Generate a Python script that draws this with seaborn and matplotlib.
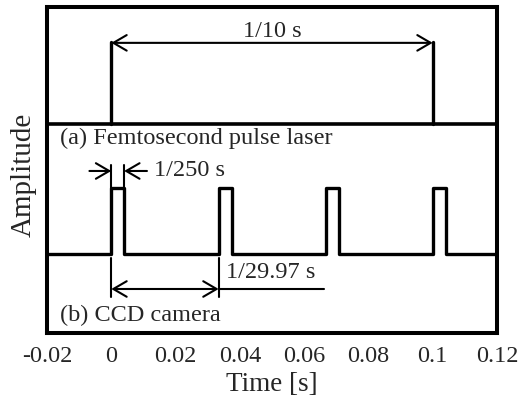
import numpy as np
import pandas as pd
import matplotlib
matplotlib.use("Agg")
import matplotlib.pyplot as plt
import seaborn as sns

# Timing data (seconds)
laser_times = [0.0, 0.1]                      # femtosecond laser pulses, 1/10 s apart
ccd_starts = [0.0, 0.0334, 0.0667, 0.1001]    # CCD frame starts, 1/29.97 s apart
exposure = 0.004                              # CCD exposure, 1/250 s
frame_period = 0.0334
x_ticks = [-0.02, 0, 0.02, 0.04, 0.06, 0.08, 0.1, 0.12]
x_tick_labels = ["-0.02", "0", "0.02", "0.04", "0.06", "0.08", "0.1", "0.12"]

# Vertical layout levels (axis units)
divider = 0.641
laser_top = 0.893
ccd_low = 0.242
ccd_high = 0.445

FS = 17.5

sns.set_style("white")
plt.rcParams["font.family"] = ["Liberation Serif", "DejaVu Serif"]
plt.rcParams["font.size"] = FS

fig = plt.figure(figsize=(5.2, 4.03), dpi=100)
ax = fig.add_axes([47 / 520, 1 - 333 / 403, 450 / 520, 326 / 403])

# (a) laser pulses as vertical strokes
laser_df = pd.DataFrame({
    "t": [t for t in laser_times for _ in range(2)],
    "a": [divider, laser_top] * len(laser_times),
    "pulse": [i for i in range(len(laser_times)) for _ in range(2)],
})
sns.lineplot(data=laser_df, x="t", y="a", units="pulse", estimator=None,
             sort=False, color="black", lw=2.4, ax=ax)

# (b) CCD exposure square wave
xs = [-0.02]
ys = [ccd_low]
for s in ccd_starts:
    xs += [s, s, s + exposure, s + exposure]
    ys += [ccd_low, ccd_high, ccd_high, ccd_low]
xs.append(0.12)
ys.append(ccd_low)
ccd_df = pd.DataFrame({"t": xs, "a": ys})
sns.lineplot(data=ccd_df, x="t", y="a", estimator=None, sort=False,
             color="black", lw=2.4, ax=ax)

# divider between the two traces
ax.axhline(divider, color="black", lw=2.6)

dim_lw = 1.5
both = "<->,head_length=0.6,head_width=0.35"
one = "->,head_length=0.6,head_width=0.35"
arrow_kw = dict(color="black", lw=dim_lw, mutation_scale=16, shrinkA=0, shrinkB=0)

# 1/10 s dimension
ax.annotate("", xy=(laser_times[0], 0.89), xytext=(laser_times[1], 0.89),
            arrowprops=dict(arrowstyle=both, **arrow_kw))
ax.text((laser_times[0] + laser_times[1]) / 2, 0.925, "1/10 s",
        ha="center", va="center")

# 1/250 s dimension (arrows pointing inward)
for x0 in (0.0, exposure):
    ax.plot([x0, x0], [ccd_high, 0.515], color="black", lw=dim_lw)
ax.annotate("", xy=(0.0, 0.497), xytext=(-0.0068, 0.497),
            arrowprops=dict(arrowstyle=one, **arrow_kw))
ax.annotate("", xy=(exposure, 0.497), xytext=(0.0111, 0.497),
            arrowprops=dict(arrowstyle=one, **arrow_kw))
ax.text(0.0133, 0.497, "1/250 s", ha="left", va="center")

# 1/29.97 s dimension
for x0 in (0.0, frame_period):
    ax.plot([x0, x0], [0.23, 0.11], color="black", lw=dim_lw)
ax.annotate("", xy=(0.0, 0.135), xytext=(frame_period, 0.135),
            arrowprops=dict(arrowstyle=both, **arrow_kw))
ax.plot([frame_period, 0.0663], [0.135, 0.135], color="black", lw=dim_lw)
ax.text(0.0497, 0.187, "1/29.97 s", ha="center", va="center")

# trace labels
ax.text(0.029, 0.598, "(a) Femtosecond pulse laser", transform=ax.transAxes,
        ha="left", va="center")
ax.text(0.029, 0.055, "(b) CCD camera", transform=ax.transAxes,
        ha="left", va="center")

ax.set_xlim(-0.02, 0.12)
ax.set_ylim(0, 1)
ax.set_xticks(x_ticks)
ax.set_xticklabels(x_tick_labels)
ax.set_yticks([])
ax.tick_params(axis="x", length=0, pad=9, labelsize=FS)
ax.set_xlabel("Time [s]", fontsize=19.5, labelpad=4)
ax.set_ylabel("Amplitude", fontsize=21)
ax.yaxis.set_label_coords(-0.022, 0.485)
for sp in ax.spines.values():
    sp.set_visible(True)
    sp.set_color("black")
    sp.set_linewidth(2.9)

fig.savefig("out.png", dpi=100)
